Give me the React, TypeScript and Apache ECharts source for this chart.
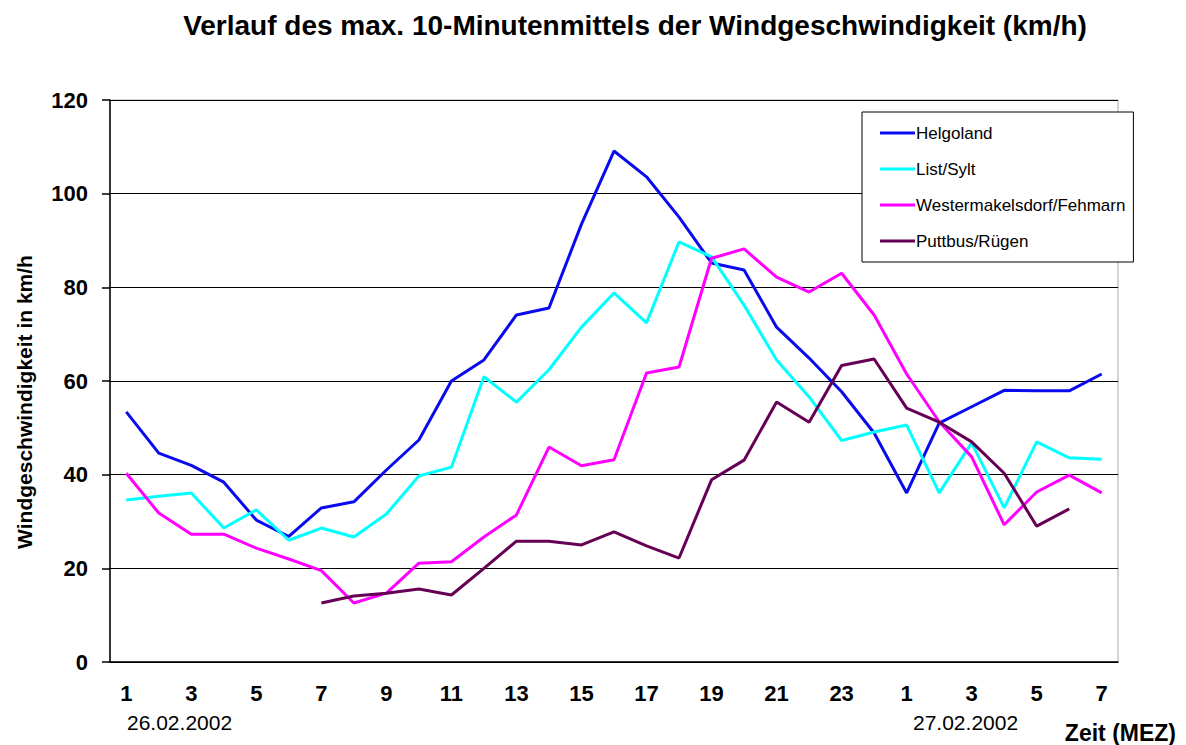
import React, { useEffect, useRef } from "react";
import * as echarts from "echarts";

const hours = [
  "1","2","3","4","5","6","7","8","9","10","11","12","13","14","15","16","17","18","19","20","21","22","23","24",
  "1","2","3","4","5","6","7",
];

const helgoland = [53.4, 44.6, 42, 38.4, 30.3, 26.8, 32.9, 34.2, 41, 47.4, 60, 64.5, 74.1, 75.6, 93.5, 109.1, 103.6, 95, 85.2, 83.7, 71.5, 64.9, 57.7, 48.9, 36.1, 51, 54.5, 58, 57.9, 57.9, 61.5];
const listSylt = [34.6, 35.4, 36.1, 28.6, 32.5, 26, 28.6, 26.7, 31.6, 39.7, 41.6, 60.9, 55.5, 62.4, 71.5, 78.8, 72.4, 89.7, 86.5, 76.2, 64.5, 56.6, 47.3, 49.1, 50.6, 36.1, 46.8, 32.9, 47, 43.6, 43.3];
const westermakelsdorf = [40.3, 31.8, 27.3, 27.3, 24.3, 22, 19.5, 12.6, 14.7, 21.1, 21.4, 26.7, 31.4, 45.9, 41.9, 43.2, 61.7, 63, 86.2, 88.2, 82.2, 79, 83, 74.1, 61.5, 51.3, 43.8, 29.3, 36.3, 39.9, 36.1];
const puttbus = [null, null, null, null, null, null, 12.6, 14.1, 14.7, 15.6, 14.3, 20, 25.8, 25.8, 25, 27.8, 24.8, 22.2, 38.9, 43.1, 55.5, 51.2, 63.3, 64.7, 54.2, 51.2, 47, 40.3, 29, 32.7, null];

const seriesNames = ["Helgoland", "List/Sylt", "Westermakelsdorf/Fehmarn", "Puttbus/Rügen"];
const seriesColors = ["#0a0aee", "#00ffff", "#ff00ff", "#660055"];
const seriesData = [helgoland, listSylt, westermakelsdorf, puttbus];

const FONT = "'Liberation Sans', Arial, sans-serif";

export default function App() {
  const ref = useRef<HTMLDivElement>(null);
  useEffect(() => {
    document.body.style.margin = "0";
    if (!ref.current) return;
    const chart = echarts.init(ref.current, null, { renderer: "svg" });
    chart.setOption({
      animation: false,
      backgroundColor: "#ffffff",
      textStyle: { fontFamily: FONT },
      title: {
        text: "Verlauf des max. 10-Minutenmittels der Windgeschwindigkeit (km/h)",
        left: 630,
        textAlign: "center",
        top: 6,
        textStyle: { fontFamily: FONT, fontSize: 28, fontWeight: "bold", color: "#000" },
      },
      grid: {
        left: 110,
        right: 68,
        top: 100,
        bottom: 83,
        show: true,
        borderColor: "#aaaaaa",
        borderWidth: 1,
      },
      legend: {
        orient: "vertical",
        left: 862,
        top: 112,
        padding: [12, 8, 12, 18],
        itemGap: 18,
        itemWidth: 35,
        itemHeight: 3,
        icon: "rect",
        backgroundColor: "#ffffff",
        borderColor: "#000000",
        borderWidth: 1,
        borderRadius: 0,
        textStyle: { fontFamily: FONT, fontSize: 17, lineHeight: 18, color: "#000", padding: [0, 0, 0, -4] },
        data: seriesNames,
      },
      xAxis: {
        type: "category",
        data: hours,
        boundaryGap: true,
        axisLine: { lineStyle: { color: "#000", width: 1.5 } },
        axisTick: { interval: 0, length: 8, lineStyle: { color: "#000", width: 1.5 } },
        axisLabel: {
          interval: 1,
          margin: 20,
          fontFamily: FONT,
          fontSize: 22,
          fontWeight: "bold",
          color: "#000",
        },
        splitLine: { show: false },
      },
      yAxis: {
        type: "value",
        min: 0,
        max: 120,
        interval: 20,
        axisLine: { show: true, lineStyle: { color: "#000", width: 1.5 } },
        axisTick: { show: true, length: 8, lineStyle: { color: "#000", width: 1.5 } },
        axisLabel: {
          margin: 22,
          fontFamily: FONT,
          fontSize: 22,
          fontWeight: "bold",
          color: "#000",
        },
        splitLine: { show: true, lineStyle: { color: "#000", width: 1.2 } },
      },
      series: seriesNames.map((name, i) => ({
        name,
        type: "line",
        data: seriesData[i],
        symbol: "none",
        connectNulls: false,
        lineStyle: { color: seriesColors[i], width: 3 },
        itemStyle: { color: seriesColors[i] },
      })),
      graphic: [
        {
          type: "text",
          x: 24,
          y: 402,
          rotation: Math.PI / 2,
          style: {
            text: "Windgeschwindigkeit in km/h",
            fontFamily: FONT,
            fontSize: 21,
            fontWeight: "bold",
            fill: "#000",
            textAlign: "center",
            textVerticalAlign: "middle",
          },
        },
        {
          type: "text",
          left: 127,
          top: 712,
          style: { text: "26.02.2002", fontFamily: FONT, fontSize: 21, fill: "#000" },
        },
        {
          type: "text",
          left: 913,
          top: 712,
          style: { text: "27.02.2002", fontFamily: FONT, fontSize: 21, fill: "#000" },
        },
        {
          type: "text",
          right: 10,
          top: 721,
          style: { text: "Zeit (MEZ)", fontFamily: FONT, fontSize: 23, fontWeight: "bold", fill: "#000" },
        },
      ],
    });
    return () => chart.dispose();
  }, []);
  return <div ref={ref} style={{ width: 1186, height: 745 }} />;
}
